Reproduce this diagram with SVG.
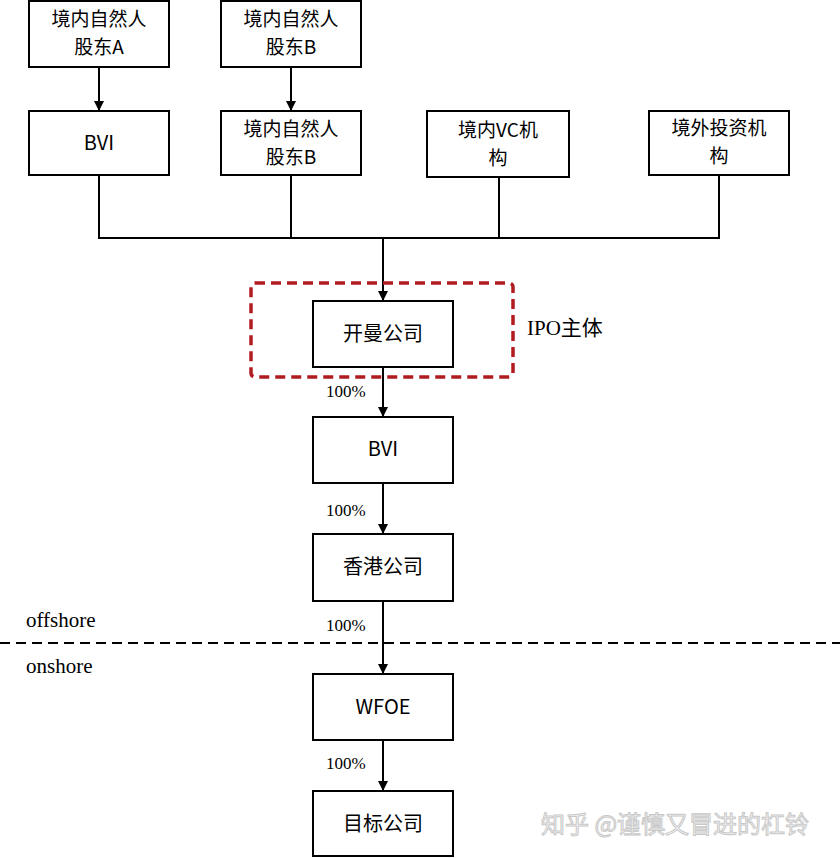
<svg xmlns="http://www.w3.org/2000/svg" width="840" height="858" viewBox="0 0 840 858">
<style>
.box{fill:#fff;stroke:#000;stroke-width:2}
.t{font-family:"Noto Sans CJK SC","Liberation Sans",sans-serif;font-size:20px;text-anchor:middle;fill:#000}
.t2{font-family:"Noto Sans CJK SC","Liberation Sans",sans-serif;font-size:19px;text-anchor:middle;fill:#000}
.s{font-family:"Liberation Serif","Noto Sans CJK SC",serif;font-size:17px;fill:#000}
.l{font-family:"Liberation Serif","Noto Sans CJK SC",serif;font-size:21px;fill:#000}
.c{fill:none;stroke:#000;stroke-width:2}
</style>
<defs>
<marker id="ah" markerWidth="10" markerHeight="10" refX="9" refY="5" orient="auto" markerUnits="userSpaceOnUse">
<path d="M0,0 L10,5 L0,10 Z" fill="#000"/>
</marker>
</defs>
<rect width="840" height="858" fill="#fff"/>
<g id="connectors">
<line class="c" x1="99" y1="67" x2="99" y2="110" marker-end="url(#ah)"/>
<line class="c" x1="291" y1="67" x2="291" y2="110" marker-end="url(#ah)"/>
<polyline class="c" points="99,175 99,238 719,238 719,175"/>
<line class="c" x1="291" y1="175" x2="291" y2="238"/>
<line class="c" x1="499" y1="177" x2="499" y2="238"/>
<line class="c" x1="383" y1="238" x2="383" y2="300" marker-end="url(#ah)"/>
<line class="c" x1="383" y1="367" x2="383" y2="416" marker-end="url(#ah)"/>
<line class="c" x1="383" y1="483" x2="383" y2="533" marker-end="url(#ah)"/>
<line class="c" x1="383" y1="601" x2="383" y2="673" marker-end="url(#ah)"/>
<line class="c" x1="383" y1="740" x2="383" y2="790" marker-end="url(#ah)"/>
</g>
<g id="divider">
<line x1="0" y1="643" x2="840" y2="643" stroke="#000" stroke-width="2" stroke-dasharray="10,6"/>
<text class="l" x="26" y="627">offshore</text>
<text class="l" x="26" y="673">onshore</text>
</g>
<g id="ipo">
<rect x="251" y="283" width="262" height="94" rx="4" fill="none" stroke="#b01c22" stroke-width="3.5" stroke-dasharray="10,6"/>
<text class="l" x="527" y="335">IPO主体</text>
</g>
<g id="n1"><rect class="box" x="29" y="1" width="140" height="66"/><text class="t2" x="99" y="26">境内自然人</text><text class="t2" x="99" y="54">股东A</text></g>
<g id="n2"><rect class="box" x="221" y="1" width="140" height="66"/><text class="t2" x="291" y="26">境内自然人</text><text class="t2" x="291" y="54">股东B</text></g>
<g id="n3"><rect class="box" x="29" y="111" width="140" height="64"/><text class="t" x="99" y="150">BVI</text></g>
<g id="n4"><rect class="box" x="221" y="111" width="140" height="64"/><text class="t2" x="291" y="136">境内自然人</text><text class="t2" x="291" y="164">股东B</text></g>
<g id="n5"><rect class="box" x="427" y="111" width="142" height="66"/><text class="t2" x="498" y="137">境内VC机</text><text class="t2" x="498" y="165">构</text></g>
<g id="n6"><rect class="box" x="649" y="111" width="140" height="64"/><text class="t2" x="719" y="135">境外投资机</text><text class="t2" x="719" y="163">构</text></g>
<g id="n7"><rect class="box" x="313" y="301" width="140" height="66"/><text class="t" x="383" y="341">开曼公司</text></g>
<g id="n8"><rect class="box" x="313" y="417" width="140" height="66"/><text class="t" x="383" y="456">BVI</text></g>
<g id="n9"><rect class="box" x="313" y="534" width="140" height="67"/><text class="t" x="383" y="574">香港公司</text></g>
<g id="n10"><rect class="box" x="313" y="674" width="140" height="66"/><text class="t" x="383" y="714">WFOE</text></g>
<g id="n11"><rect class="box" x="313" y="791" width="140" height="65"/><text class="t" x="383" y="831">目标公司</text></g>
<g id="labels">
<text class="s" x="326" y="397">100%</text>
<text class="s" x="326" y="516">100%</text>
<text class="s" x="326" y="631">100%</text>
<text class="s" x="326" y="769">100%</text>
</g>
<text x="541" y="833" font-family="Noto Sans CJK SC,sans-serif" font-size="24" fill="#fafafa" stroke="#c8c8c8" stroke-width="1">知乎 @谨慎又冒进的杠铃</text>
</svg>
